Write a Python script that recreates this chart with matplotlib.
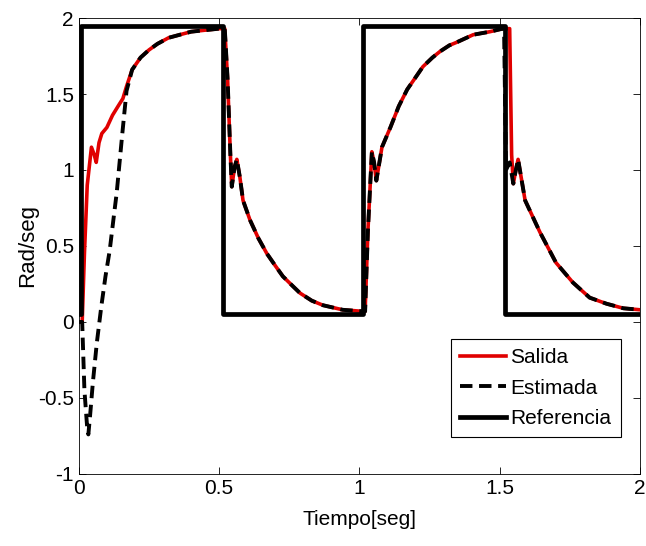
import numpy as np
import matplotlib
matplotlib.use('Agg')
import matplotlib.pyplot as plt

plt.rcParams['font.family'] = ['Liberation Sans', 'DejaVu Sans']

# first rise of each estimate (they differ at the start)
salida_t0 = [0.000, 0.012, 0.020, 0.030, 0.045, 0.055, 0.062, 0.072, 0.082,
             0.100, 0.120, 0.140, 0.157, 0.170]
salida_y0 = [0.00, 0.00, 0.45, 0.90, 1.15, 1.10, 1.05, 1.18, 1.24,
             1.28, 1.36, 1.42, 1.47, 1.55]
estim_t0 = [0.000, 0.012, 0.020, 0.030, 0.034, 0.040, 0.050, 0.064, 0.080,
            0.095, 0.110, 0.125, 0.135, 0.155, 0.170]
estim_y0 = [0.00, 0.00, -0.45, -0.70, -0.74, -0.62, -0.40, -0.14, 0.10,
            0.30, 0.47, 0.70, 0.85, 1.24, 1.52]

# shared part: up to first peak, decay, second rise
common_t = [0.19, 0.22, 0.25, 0.28, 0.32, 0.36, 0.40, 0.45, 0.50, 0.52,
            0.530, 0.540, 0.545, 0.555, 0.563, 0.574, 0.585, 0.61, 0.64,
            0.67, 0.70, 0.727, 0.76, 0.788, 0.83, 0.87, 0.94, 1.01, 1.02,
            1.03, 1.044, 1.052, 1.06, 1.08, 1.11, 1.14, 1.17, 1.20, 1.226,
            1.26, 1.287, 1.32, 1.346, 1.405, 1.465, 1.51]
common_y = [1.66, 1.74, 1.79, 1.83, 1.87, 1.89, 1.91, 1.92, 1.93, 1.93,
            1.60, 1.10, 0.89, 1.02, 1.07, 0.95, 0.80, 0.67, 0.55,
            0.45, 0.37, 0.30, 0.24, 0.19, 0.14, 0.11, 0.08, 0.07, 0.07,
            0.60, 1.12, 1.05, 0.93, 1.15, 1.28, 1.42, 1.53, 1.61, 1.68,
            1.74, 1.78, 1.82, 1.84, 1.89, 1.91, 1.93]

# second fall (salida lags a bit)
salida_t1 = [1.535, 1.542, 1.548, 1.557, 1.565, 1.59]
salida_y1 = [1.93, 1.10, 0.91, 1.00, 1.07, 0.80]
estim_t1 = [1.515, 1.522, 1.535, 1.548, 1.557, 1.565, 1.59]
estim_y1 = [1.93, 1.00, 1.05, 0.91, 1.00, 1.07, 0.80]

tail_t = [1.643, 1.70, 1.76, 1.82, 1.88, 1.94, 2.00]
tail_y = [0.59, 0.39, 0.26, 0.16, 0.12, 0.09, 0.08]

ref_t = [0.0, 0.008, 0.008, 0.515, 0.515, 1.012, 1.012, 1.517, 1.517, 2.0]
ref_y = [0.05, 0.05, 1.95, 1.95, 0.05, 0.05, 1.95, 1.95, 0.05, 0.05]

salida_t = salida_t0 + common_t + salida_t1 + tail_t
salida_y = salida_y0 + common_y + salida_y1 + tail_y
estim_t = estim_t0 + common_t + estim_t1 + tail_t
estim_y = estim_y0 + common_y + estim_y1 + tail_y

fig = plt.figure(figsize=(6.46, 5.46), dpi=100)
ax = fig.add_axes([0.122, 0.132, 0.869, 0.835])

ax.plot(salida_t, salida_y, color='#e00000', linewidth=2.6, label='Salida')
ax.plot(estim_t, estim_y, color='black', linewidth=2.8, dashes=(3.2, 1.7),
        label='Estimada')
ax.plot(ref_t, ref_y, color='black', linewidth=3.4, label='Referencia')

ax.set_xlim(0, 2)
ax.set_ylim(-1, 2)
ax.set_xticks([0, 0.5, 1, 1.5, 2])
ax.set_xticklabels(['0', '0.5', '1', '1.5', '2'])
ax.set_yticks([-1, -0.5, 0, 0.5, 1, 1.5, 2])
ax.set_yticklabels(['-1', '-0.5', '0', '0.5', '1', '1.5', '2'])
ax.tick_params(direction='in', top=True, right=True, labelsize=15, length=5,
               width=0.6)
for s in ax.spines.values():
    s.set_linewidth(0.6)

ax.set_xlabel('Tiempo[seg]', fontsize=15, labelpad=9)
ax.set_ylabel('Rad/seg', fontsize=16, labelpad=0)

leg = ax.legend(loc='lower right', bbox_to_anchor=(0.965, 0.08), fontsize=15,
                fancybox=False, framealpha=1, edgecolor='black',
                handlelength=2.2, handletextpad=0.2, borderpad=0.45,
                labelspacing=0.55, borderaxespad=0)
leg.get_frame().set_linewidth(0.8)

fig.savefig('out.png', dpi=100)
